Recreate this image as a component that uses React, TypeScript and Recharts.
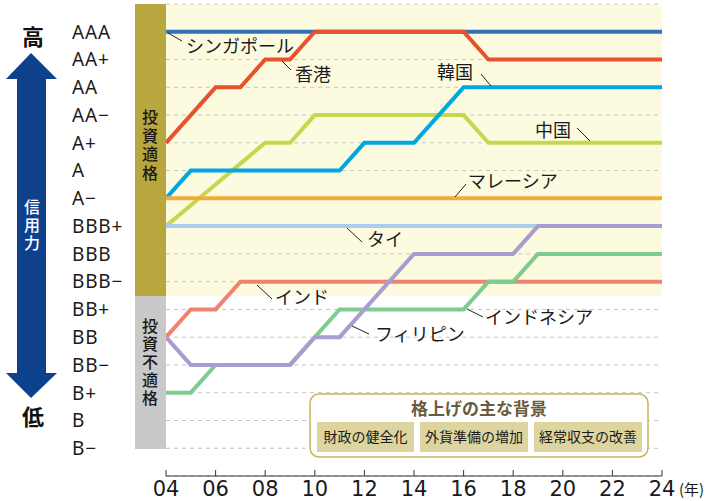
import { LineChart, Line, XAxis, YAxis, CartesianGrid } from 'recharts'

const years = [2004, 2005, 2006, 2007, 2008, 2009, 2010, 2011, 2012, 2013, 2014, 2015, 2016, 2017, 2018, 2019, 2020, 2021, 2022, 2023, 2024]
const xTicks = [2004, 2006, 2008, 2010, 2012, 2014, 2016, 2018, 2020, 2022, 2024]
const ratings = ['AAA', 'AA+', 'AA', 'AA−', 'A+', 'A', 'A−', 'BBB+', 'BBB', 'BBB−', 'BB+', 'BB', 'BB−', 'B+', 'B', 'B−']

// rating index: 0 = AAA ... 15 = B−
const singapore = [0, 0, 0, 0, 0, 0, 0, 0, 0, 0, 0, 0, 0, 0, 0, 0, 0, 0, 0, 0, 0]
const hongKong = [4, 3, 2, 2, 1, 1, 0, 0, 0, 0, 0, 0, 0, 1, 1, 1, 1, 1, 1, 1, 1]
const china = [7, 6.25, 5.5, 4.75, 4, 4, 3, 3, 3, 3, 3, 3, 3, 4, 4, 4, 4, 4, 4, 4, 4]
const korea = [6, 5, 5, 5, 5, 5, 5, 5, 4, 4, 4, 3, 2, 2, 2, 2, 2, 2, 2, 2, 2]
const malaysia = [6, 6, 6, 6, 6, 6, 6, 6, 6, 6, 6, 6, 6, 6, 6, 6, 6, 6, 6, 6, 6]
const thailand = [7, 7, 7, 7, 7, 7, 7, 7, 7, 7, 7, 7, 7, 7, 7, 7, 7, 7, 7, 7, 7]
const india = [11, 10, 10, 9, 9, 9, 9, 9, 9, 9, 9, 9, 9, 9, 9, 9, 9, 9, 9, 9, 9]
const indonesia = [13, 13, 12, 12, 12, 12, 11, 10, 10, 10, 10, 10, 10, 9, 9, 8, 8, 8, 8, 8, 8]
const philippines = [11, 12, 12, 12, 12, 12, 11, 11, 10, 9, 8, 8, 8, 8, 8, 7, 7, 7, 7, 7, 7]

const series = [
  { key: 'singapore', values: singapore, color: '#3272b8' },
  { key: 'hongKong', values: hongKong, color: '#e5522d' },
  { key: 'china', values: china, color: '#c4d84f' },
  { key: 'korea', values: korea, color: '#00a8e1' },
  { key: 'malaysia', values: malaysia, color: '#f6aa3e' },
  { key: 'thailand', values: thailand, color: '#a9cdeb' },
  { key: 'india', values: india, color: '#f08272' },
  { key: 'indonesia', values: indonesia, color: '#80cb90' },
  { key: 'philippines', values: philippines, color: '#a99dd0' },
]

const rows = years.map((year, i) => {
  const row: Record<string, number> = { year }
  series.forEach(s => { row[s.key] = s.values[i] })
  return row
})

const JP = "'Noto Sans CJK JP', sans-serif"

// name labels with their leader lines
const labels = [
  { text: 'シンガポール', x: 186, y: 47, line: [168, 33, 182, 41] },
  { text: '香港', x: 295, y: 75, line: [282, 61, 291, 70] },
  { text: '韓国', x: 437, y: 73, line: [481, 74, 491, 86] },
  { text: '中国', x: 535, y: 131, line: [577, 128, 590, 141] },
  { text: 'マレーシア', x: 468, y: 182, line: [455, 197, 466, 184] },
  { text: 'タイ', x: 367, y: 240, line: [347, 228, 362, 242] },
  { text: 'インド', x: 275, y: 298, line: [257, 285, 272, 299] },
  { text: 'フィリピン', x: 375, y: 335, line: [352, 326, 369, 334] },
  { text: 'インドネシア', x: 485, y: 318, line: [467, 309, 483, 317] },
]

const reasons = [
  { text: '財政の健全化', x: 317, w: 97 },
  { text: '外貨準備の増加', x: 420, w: 108 },
  { text: '経常収支の改善', x: 534, w: 108 },
]

const YTick = (props: any) => {
  const { y, payload } = props
  if (payload.value < 0) return null
  return (
    <text x={72} y={y} dy="0.36em" fontSize={19} fontFamily="'Noto Sans', sans-serif" fill="#1a1a1a" letterSpacing={0.8}>
      {ratings[payload.value]}
    </text>
  )
}

const XTick = (props: any) => {
  const { x, y, payload } = props
  return (
    <g>
      <line x1={x} y1={y - 6} x2={x} y2={y} stroke="#333" strokeWidth={1} />
      <text x={x} y={y + 20} textAnchor="middle" fontSize={21} fontFamily="'DejaVu Sans', sans-serif" fill="#1a1a1a">
        {String(payload.value).slice(2)}
      </text>
      {payload.value === 2024 && (
        <text x={x + 17} y={y + 19} fontSize={15} fontFamily={JP} fill="#1a1a1a">(年)</text>
      )}
    </g>
  )
}

// vertical (top-to-bottom) text, one text element
const Vertical = ({ text, x, top, size, gap, fill }: { text: string; x: number; top: number; size: number; gap: number; fill: string }) => (
  <text x={x} y={top} fontSize={size} fontFamily={JP} fill={fill} fontWeight={500}
    letterSpacing={gap} style={{ writingMode: 'vertical-rl' }}>{text}</text>
)

export default function App() {
  return (
    <div style={{ position: 'absolute', left: 0, top: 0, width: 713, height: 501, background: '#fff' }}>
      <svg width={713} height={501} style={{ position: 'absolute', left: 0, top: 0 }}>
        <rect x={166} y={4} width={496} height={292} fill="#fdfbdf" />
      </svg>
      <div style={{ position: 'absolute', left: 0, top: 0 }}>
        <LineChart width={713} height={501} data={rows} margin={{ top: 4, right: 51, bottom: 0, left: 0 }}>
          <CartesianGrid vertical={false} stroke="#c4c4c4" strokeDasharray="4 4" />
          <XAxis
            dataKey="year" type="number" domain={[2004, 2024]} ticks={xTicks} interval={0}
            height={25} tickSize={0} tickMargin={0} tickLine={false}
            axisLine={{ stroke: '#333', strokeWidth: 1 }} tick={<XTick />}
          />
          <YAxis
            type="number" domain={[-1, 16]} reversed ticks={[-1, 0, 1, 2, 3, 4, 5, 6, 7, 8, 9, 10, 11, 12, 13, 14, 15]}
            interval={0} width={166} axisLine={false} tickLine={false} tick={<YTick />}
          />
          {series.map(s => (
            <Line key={s.key} type="linear" dataKey={s.key} stroke={s.color} strokeWidth={4}
              dot={false} activeDot={false} isAnimationActive={false} />
          ))}
        </LineChart>
      </div>
      <svg width={713} height={501} style={{ position: 'absolute', left: 0, top: 0, pointerEvents: 'none' }}>
        {/* credit arrow */}
        <text x={33} y={37} dy="0.36em" textAnchor="middle" fontSize={22} fontWeight={700} fontFamily={JP} fill="#111">高</text>
        <polygon points="31,53 6,79 57,79" fill="#0d418c" />
        <rect x={17} y={78} width={29} height={296} fill="#0d418c" />
        <polygon points="6,373 57,373 31,398" fill="#0d418c" />
        <Vertical text="信用力" x={32} top={199} size={16} gap={2} fill="#fff" />
        <text x={33} y={417} dy="0.36em" textAnchor="middle" fontSize={22} fontWeight={700} fontFamily={JP} fill="#111">低</text>

        {/* grade bands */}
        <rect x={135} y={4} width={31} height={292} fill="#b8a63e" />
        <rect x={135} y={296} width={31} height={153} fill="#c9c9c9" />
        <Vertical text="投資適格" x={150} top={109} size={16} gap={2.5} fill="#1a1a1a" />
        <Vertical text="投資不適格" x={150} top={318} size={16} gap={2} fill="#1a1a1a" />

        {labels.map(l => (
          <g key={l.text}>
            <line x1={l.line[0]} y1={l.line[1]} x2={l.line[2]} y2={l.line[3]} stroke="#222" strokeWidth={1} />
            <text x={l.x} y={l.y} dy="0.36em" fontSize={18} fontFamily={JP} fill="#1a1a1a">{l.text}</text>
          </g>
        ))}

        {/* reasons box */}
        <rect x={310} y={394} width={338} height={63} rx={9} fill="#fff" stroke="#c8b45a" strokeWidth={1.5} />
        <text x={479} y={409} dy="0.36em" textAnchor="middle" fontSize={17} fontWeight={700} fontFamily={JP} fill="#6b5b3e">格上げの主な背景</text>
        {reasons.map(r => (
          <g key={r.text}>
            <rect x={r.x} y={422} width={r.w} height={30} fill="#ddd49f" />
            <text x={r.x + r.w / 2} y={437} dy="0.36em" textAnchor="middle" fontSize={14} fontFamily={JP} fill="#1a1a1a">{r.text}</text>
          </g>
        ))}
      </svg>
    </div>
  )
}
